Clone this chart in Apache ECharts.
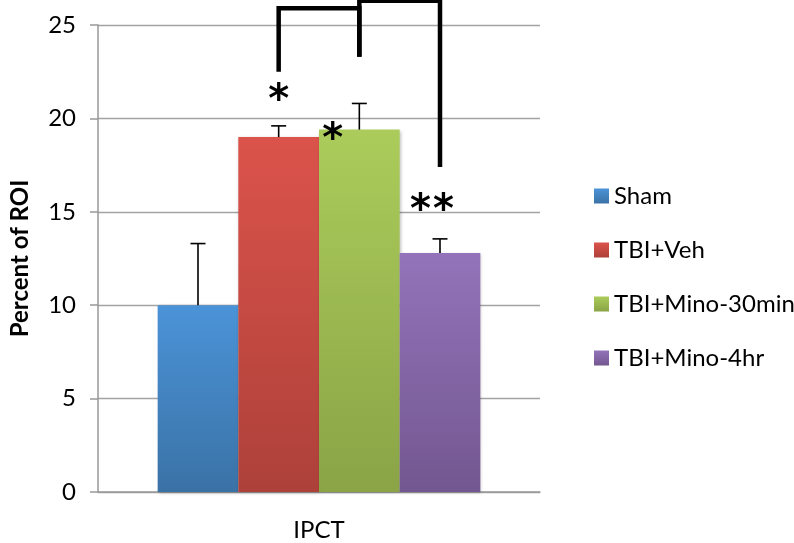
<!DOCTYPE html>
<html>
<head>
<meta charset="utf-8">
<script src="https://cdn.jsdelivr.net/npm/echarts@6/dist/echarts.min.js"></script>
<style>html,body{margin:0;padding:0;background:#fff}#c{width:794px;height:543px}</style>
</head>
<body>
<div id="c"></div>
<script>
const categories = ['IPCT'];
const seriesNames = ['Sham', 'TBI+Veh', 'TBI+Mino-30min', 'TBI+Mino-4hr'];
const means = [10.0, 19.0, 19.4, 12.8];
const errors = [3.3, 0.6, 1.4, 0.75];
const yMin = 0, yMax = 25, yStep = 5;
// significance brackets: between series indices, leg end values and top value
const brackets = [
  { from: 1, to: 2, fromEnd: 22.5, toEnd: 23.3, top: 25.9 },
  { from: 2, to: 3, fromEnd: 23.3, toEnd: 17.4, top: 26.3 }
];
// significance markers
const stars = [
  { series: 1, value: 21.5, text: '*', shift: 0 },
  { series: 2, value: 19.4, text: '*', shift: -0.33 },
  { series: 3, value: 15.6, text: '**', shift: -0.1 }
];

const gradients = [
  ['#4B93D8', '#3A72A6'],
  ['#DB534B', '#AD413A'],
  ['#ABCC5B', '#8AA446'],
  ['#9373BA', '#735790']
];
const CAT_GAP = 0.27;
const FONT = 'Lato';

function barCenter(api, idx) {
  const c = api.coord([0, 0]);
  const band = api.size([1, 0])[0];
  const group = band * (1 - CAT_GAP);
  const w = group / seriesNames.length;
  return c[0] - group / 2 + w * (idx + 0.5);
}
function yPix(api, v) { return api.coord([0, v])[1]; }

const barSeries = seriesNames.map((name, i) => ({
  name: name,
  type: 'bar',
  data: [means[i]],
  barGap: '0%',
  barCategoryGap: (CAT_GAP * 100) + '%',
  itemStyle: {
    color: new echarts.graphic.LinearGradient(0, 0, 0, 1, [
      { offset: 0, color: gradients[i][0] },
      { offset: 1, color: gradients[i][1] }
    ]),
    shadowBlur: 3, shadowColor: 'rgba(0,0,0,0.25)', shadowOffsetX: 1, shadowOffsetY: 1
  },
  emphasis: { disabled: true },
  z: 2
}));

const errSeries = {
  type: 'custom',
  name: 'err',
  data: means.map((m, i) => [0, m, m + errors[i], i]),
  z: 5,
  silent: true,
  renderItem: function (params, api) {
    const i = api.value(3);
    const x = barCenter(api, i);
    const y1 = yPix(api, api.value(1));
    const y2 = yPix(api, api.value(2));
    const st = { stroke: '#000', lineWidth: 1.6 };
    return {
      type: 'group',
      children: [
        { type: 'line', shape: { x1: x, y1: y1, x2: x, y2: y2 }, style: st },
        { type: 'line', shape: { x1: x - 7.5, y1: y2, x2: x + 7.5, y2: y2 }, style: st }
      ]
    };
  }
};

const bracketSeries = {
  type: 'custom',
  name: 'brackets',
  data: brackets.map((b, k) => [0, b.top, k]),
  z: 6,
  silent: true,
  clip: false,
  renderItem: function (params, api) {
    const b = brackets[api.value(2)];
    const xa = barCenter(api, b.from), xb = barCenter(api, b.to);
    const yt = yPix(api, b.top);
    return {
      type: 'polyline',
      shape: { points: [[xa, yPix(api, b.fromEnd)], [xa, yt], [xb, yt], [xb, yPix(api, b.toEnd)]] },
      style: { stroke: '#000', lineWidth: 4.5, fill: null, lineJoin: 'miter' }
    };
  }
};

const starSeries = {
  type: 'custom',
  name: 'stars',
  data: stars.map((s, k) => [0, s.value, k]),
  z: 7,
  silent: true,
  clip: false,
  renderItem: function (params, api) {
    const s = stars[api.value(2)];
    const band = api.size([1, 0])[0];
    const w = band * (1 - CAT_GAP) / seriesNames.length;
    const x = barCenter(api, s.series) + s.shift * w;
    const y = yPix(api, s.value);
    const chars = s.text.split('');
    const pitch = 23;
    return {
      type: 'group',
      children: chars.map((ch, j) => ({
        type: 'text',
        x: x + (j - (chars.length - 1) / 2) * pitch,
        y: y + 11,
        style: { text: ch, fill: '#000', font: 'bold 40px "DejaVu Sans"', align: 'center', verticalAlign: 'middle' }
      }))
    };
  }
};

const chart = echarts.init(document.getElementById('c'), null, { renderer: 'canvas' });
chart.setOption({
  backgroundColor: '#fff',
  animation: false,
  grid: { left: 95, right: 254, top: 25, bottom: 51, containLabel: false },
  legend: {
    data: seriesNames,
    orient: 'vertical',
    left: 589,
    top: 177,
    icon: 'rect',
    itemWidth: 15,
    itemHeight: 15,
    itemGap: 26,
    textStyle: { fontFamily: FONT, fontSize: 24, color: '#000', lineHeight: 28 },
    selectedMode: false
  },
  xAxis: {
    type: 'category',
    data: categories,
    axisLine: { lineStyle: { color: '#999', width: 1.5 } },
    axisTick: { show: false },
    axisLabel: { fontFamily: FONT, fontSize: 24, color: '#000', margin: 26 },
    splitLine: { show: false }
  },
  yAxis: {
    type: 'value',
    min: yMin, max: yMax, interval: yStep,
    name: 'Percent of ROI',
    nameLocation: 'middle',
    nameGap: 66,
    nameTextStyle: { fontFamily: FONT, fontSize: 24, fontWeight: 'bold', color: '#000' },
    axisLine: { show: true, lineStyle: { color: '#999', width: 1.5 } },
    axisTick: { show: true, length: 8, lineStyle: { color: '#999', width: 1.5 } },
    axisLabel: { fontFamily: FONT, fontSize: 24, color: '#000', margin: 22 },
    splitLine: { show: true, lineStyle: { color: '#a3a3a3', width: 1.3 } }
  },
  series: barSeries.concat([errSeries, bracketSeries, starSeries])
});
</script>
</body>
</html>
